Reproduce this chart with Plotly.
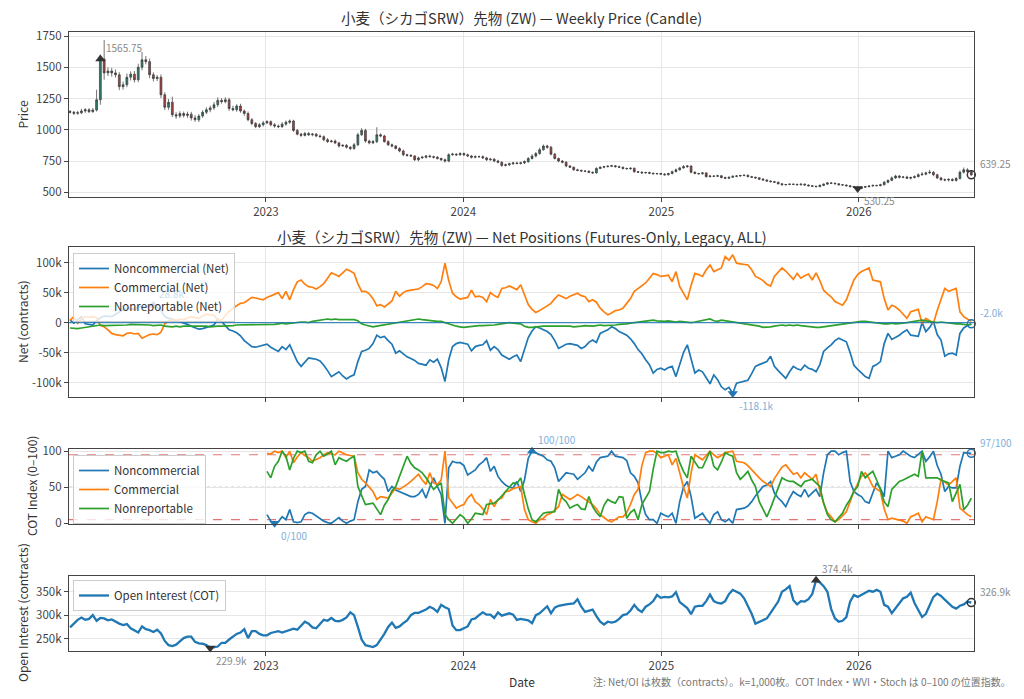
import pandas as pd
import plotly.graph_objects as go

# weekly COT dates (Tuesdays)
START_DATE = "2022-01-04"

# weekly close of the front contract
close = [
    1140, 1132, 1136, 1150, 1160, 1145, 1158, 1240, 1565.75, 1455,
    1470, 1455, 1440, 1345, 1360, 1420, 1445, 1400, 1500, 1560,
    1545, 1440, 1410, 1420, 1280, 1180, 1220, 1120, 1110, 1130,
    1115, 1125, 1095, 1080, 1110, 1140, 1160, 1175, 1200, 1235,
    1225, 1240, 1170, 1160, 1190, 1150, 1130, 1080, 1050, 1025,
    1040, 1055, 1065, 1040, 1030, 1025, 1045, 1060, 1070, 995,
    965, 955, 970, 960, 965, 950, 945, 920, 905, 910,
    895, 870, 875, 860, 850, 880, 960, 995, 910, 895,
    905, 960, 950, 905, 880, 870, 850, 830, 800, 795,
    790, 760, 775, 780, 790, 785, 780, 770, 760, 750,
    800, 805, 800, 810, 800, 790, 780, 785, 785, 775,
    760, 765, 750, 740, 715, 720, 728, 735, 730, 735,
    745, 770, 790, 810, 840, 870, 860, 805, 770, 750,
    740, 710, 700, 680, 675, 670, 668, 660, 655, 690,
    700, 705, 708, 712, 705, 700, 690, 688, 692, 665,
    660, 655, 658, 652, 648, 650, 645, 640, 650, 665,
    680, 695, 705, 710, 660, 650, 648, 655, 625, 630,
    628, 632, 618, 612, 620, 628, 630, 634, 636, 625,
    620, 615, 605, 598, 590, 585, 580, 568, 560, 562,
    565, 563, 560, 565, 558, 552, 548, 545, 555, 565,
    575, 572, 568, 560, 558, 552, 545, 540, 530.25, 540,
    545, 550, 555, 553, 560, 580, 595, 615, 630, 620,
    622, 612, 618, 625, 640, 645, 655, 660, 640, 615,
    600, 598, 603, 595, 610, 660, 680, 665, 639.25,
]
first_open = 1146
# wick length above / below the candle body
wick_up = [
    12, 10, 15, 18, 14, 12, 16, 80, 35, 152,
    30, 25, 28, 20, 26, 30, 22, 25, 28, 62,
    30, 24, 20, 18, 22, 20, 26, 45, 20, 18,
    16, 20, 18, 22, 14, 16, 20, 18, 22, 24,
    18, 20, 16, 22, 14, 18, 12, 16, 14, 12,
    14, 16, 12, 10, 14, 12, 16, 14, 12, 10,
    12, 10, 14, 12, 10, 8, 12, 10, 14, 10,
    12, 8, 10, 12, 10, 14, 16, 18, 12, 10,
    14, 60, 12, 10, 12, 10, 8, 10, 12, 8,
    10, 8, 10, 12, 8, 10, 8, 10, 8, 10,
    12, 10, 8, 10, 8, 10, 8, 10, 8, 10,
    8, 10, 8, 10, 8, 10, 8, 6, 8, 10,
    10, 12, 14, 12, 16, 12, 10, 12, 10, 8,
    8, 10, 8, 6, 8, 7, 6, 8, 6, 10,
    8, 6, 8, 7, 6, 8, 6, 7, 8, 6,
    6, 8, 6, 7, 6, 5, 6, 8, 6, 8,
    10, 8, 12, 8, 6, 8, 6, 7, 6, 8,
    6, 8, 6, 7, 5, 6, 8, 6, 7, 6,
    6, 5, 6, 8, 6, 5, 6, 5, 6, 5,
    6, 5, 6, 5, 6, 5, 6, 5, 8, 6,
    6, 5, 6, 5, 6, 5, 6, 5, 6, 5,
    6, 5, 6, 5, 8, 10, 8, 12, 10, 8,
    8, 10, 8, 10, 12, 16, 10, 20, 10, 8,
    8, 10, 8, 10, 12, 14, 18, 12, 10,
]
wick_dn = [
    10, 14, 12, 10, 15, 12, 10, 12, 40, 55,
    25, 30, 22, 28, 24, 20, 26, 22, 20, 25,
    22, 28, 24, 20, 26, 22, 20, 18, 22, 16,
    18, 20, 22, 16, 18, 14, 16, 20, 16, 18,
    16, 14, 18, 12, 16, 14, 18, 12, 14, 12,
    12, 14, 10, 12, 14, 12, 10, 12, 14, 12,
    10, 12, 8, 10, 12, 10, 8, 12, 10, 8,
    10, 12, 8, 10, 14, 10, 12, 10, 14, 12,
    10, 12, 10, 8, 10, 12, 8, 10, 12, 10,
    8, 10, 12, 8, 10, 8, 10, 8, 10, 12,
    10, 8, 10, 8, 10, 8, 10, 8, 10, 8,
    10, 8, 10, 8, 12, 8, 10, 8, 6, 8,
    8, 10, 8, 12, 10, 8, 12, 10, 8, 10,
    8, 10, 6, 8, 7, 8, 6, 7, 8, 6,
    6, 8, 7, 6, 8, 6, 7, 6, 8, 10,
    6, 8, 6, 7, 6, 8, 6, 7, 6, 8,
    6, 8, 7, 10, 8, 6, 8, 6, 8, 6,
    7, 6, 8, 6, 7, 6, 8, 6, 7, 6,
    6, 7, 6, 5, 6, 7, 5, 6, 5, 6,
    5, 6, 5, 6, 5, 6, 5, 6, 5, 6,
    5, 6, 5, 6, 5, 6, 5, 6, 8, 6,
    5, 6, 5, 6, 5, 6, 8, 6, 8, 10,
    8, 6, 10, 8, 6, 8, 10, 8, 12, 10,
    8, 10, 12, 8, 10, 8, 10, 12, 8,
]

# net positions, thousands of contracts
net_noncomm = [
    4, -1, 5, 10, -2, -3, -4, 3, 8, 11,
    10, 10, 14, 18, 21, 24, 23, 22, 25, 27,
    26, 27, 28.8, 25, 21, 10, 7, 6, 4, 2,
    0, -3, -6, -9, -11, -10, -8, -7, -4, 6,
    2, -5, -12, -14, -17, -22, -30, -35, -40, -41,
    -39, -37, -36, -41, -44, -48, -40, -45, -37, -52,
    -65, -73, -66, -59, -60, -61, -64, -71, -80, -90,
    -86, -82, -89, -94, -90, -87, -65, -48, -46, -43,
    -35, -21, -25, -23, -30, -36, -51, -47, -52, -57,
    -60, -63, -68, -70, -71, -62, -66, -61, -75, -98,
    -62, -40, -35, -33, -34, -36, -47, -40, -38, -37,
    -30, -46, -40, -45, -54, -58, -61, -57, -54, -65,
    -45, -25, -14, -7, -9, -12, -15, -20, -30, -43,
    -40, -36, -35, -36, -38, -43, -40, -33, -29, -33,
    -18, -15, -12, -7, -10, -15, -18, -21, -27, -35,
    -45, -52, -62, -70, -84, -78, -76, -79, -75, -73,
    -90, -68, -50, -37, -60, -84, -79, -82, -92, -102,
    -87, -95, -107, -112, -108, -118.1, -101, -99, -97, -96,
    -85, -73, -70, -67, -65, -56, -73, -80, -87, -93,
    -82, -73, -77, -79, -71, -76, -78, -82, -70, -48,
    -42, -37, -30, -26, -29, -32, -50, -71, -78, -84,
    -90, -93, -73, -70, -65, -35, -18, -28, -25, -21,
    -16, -12, -21, -22, -23, 0, -15, -8, 2, -20,
    -29, -56, -52, -51, -54, -18, -9, -5, -2,
]
net_comm = [
    4, 10, -1, 6, 10, 9, 10, 8, -5, -7,
    -12, -18, -20, -21, -22, -18, -17, -19, -18, -26,
    -23, -20, -19, -20, -16, -2, 3, 5, 4, 6,
    5, 8, 10, 8, 7, 11, 14, 13, 12, 5,
    4, 12, 18, 24, 28, 32, 33, 38, 42, 41,
    39, 38, 42, 45, 48, 50, 40, 52, 38, 55,
    68, 71, 64, 60, 59, 56, 60, 65, 74, 83,
    80, 77, 83, 89, 86, 82, 65, 52, 52, 48,
    40, 28, 30, 26, 31, 36, 52, 44, 50, 53,
    54, 55, 56, 60, 65, 64, 62, 57, 68, 99,
    70, 49, 43, 39, 40, 42, 54, 43, 44, 42,
    35, 50, 45, 42, 57, 58, 61, 58, 55, 63,
    45, 30, 22, 17, 20, 24, 28, 32, 40, 46,
    43, 40, 44, 46, 49, 45, 43, 35, 38, 34,
    24, 18, 13, 16, 20, 21, 24, 32, 40, 52,
    57, 62, 66, 74, 82, 80, 77, 78, 79, 68,
    85, 60, 48, 38, 62, 82, 80, 77, 88, 96,
    85, 88, 91, 110, 104, 113, 99, 98, 97, 96,
    88, 77, 74, 70, 64, 61, 77, 84, 91, 86,
    79, 72, 82, 74, 78, 81, 71, 83, 70, 54,
    48, 43, 35, 32, 29, 38, 55, 71, 80, 85,
    88, 91, 71, 70, 68, 40, 21, 29, 26, 21,
    14, 7, 18, 20, 22, -2, 7, 3, -1, 20,
    40, 57, 52, 54, 57, 18, 10, 6, 2,
]
net_nonrep = [
    -9, -10, -10, -9, -8, -7, -6, -5, -4, -5,
    -5, -4, -5, -5, -4, -4, -3, -3, -4, -3,
    -3, -4, -5, -5, -4, -6, -7, -7, -6, -7,
    -6, -6, -5, -5, -6, -6, -6, -7, -6, -6,
    -6, -6, -5, -5, -4, -4, -4, -3, -4, -3,
    -3, -3, -4, -3, -3, -2, -1, -2, -1, 0,
    0, 1, 1, 0, 2, 3, 4, 5, 6, 5,
    6, 5, 5, 6, 5, 5, 3, -2, -4, -6,
    -7, -6, -5, -4, -3, -1, 0, 1, 2, 3,
    4, 5, 6, 5, 4, 3, 3, 2, 2, 0,
    -3, -5, -6, -7, -8, -7, -6, -5, -5, -5,
    -5, -4, -4, -3, -2, -1, 0, -1, -1, -2,
    -6, -8, -8, -7, -6, -6, -6, -6, -5, -5,
    -6, -5, -6, -7, -7, -6, -5, -6, -6, -5,
    -4, -5, -5, -4, -4, -3, -3, -2, -1, 0,
    1, 2, 3, 3, 4, 3, 2, 2, 3, 2,
    1, 2, 1, 1, 0, 1, 2, 3, 4, 6,
    3, 2, 4, 3, 2, 1, 1, 0, -1, -2,
    -3, -4, -6, -8, -8, -7, -6, -5, -4, -5,
    -4, -5, -4, -5, -6, -7, -7, -8, -8, -7,
    -6, -5, -4, -3, -2, -1, 0, 1, 1, 2,
    2, 1, 1, 0, -1, -2, -2, -1, -2, -2,
    -1, 0, 1, 2, 3, 4, 3, 2, 1, 0,
    1, 0, 0, -1, -2, -2, -3, -4, -3,
]

# COT index (0-100), starts after the 52-week lookback
COT_FIRST_WEEK = 52
cot_noncomm = [
    12, 3, 0, 2, 9, 5, 19, 2, 1, 2,
    12, 15, 14, 10, 7, 3, 1, 0, 4, 8,
    3, 0, 3, 5, 30, 47, 51, 74, 70, 72,
    66, 61, 44, 51, 46, 44, 42, 40, 37, 37,
    40, 47, 35, 50, 63, 51, 40, 0, 77, 86,
    84, 84, 80, 67, 70, 74, 81, 85, 91, 72,
    79, 65, 58, 53, 50, 49, 58, 44, 60, 90,
    100, 98, 96, 93, 88, 86, 77, 58, 64, 70,
    69, 68, 61, 65, 70, 79, 72, 85, 91, 92,
    93, 100, 93, 92, 91, 87, 70, 65, 56, 30,
    12, 5, 5, 0, 14, 11, 9, 14, 0, 30,
    50, 58, 37, 7, 10, 14, 6, 0, 12, 16,
    5, 2, 6, 0, 19, 20, 21, 24, 30, 38,
    44, 51, 53, 58, 42, 35, 30, 23, 35, 44,
    40, 37, 47, 37, 42, 47, 37, 70, 95, 100,
    100, 95, 98, 100, 58, 44, 40, 37, 30, 28,
    42, 56, 48, 37, 100, 91, 93, 95, 100, 96,
    93, 91, 95, 100, 86, 92, 100, 80, 68, 44,
    51, 49, 49, 79, 98, 97, 97,
]
cot_comm = [
    97, 96, 100, 98, 100, 91, 100, 84, 92, 98,
    94, 91, 86, 88, 91, 95, 98, 96, 95, 100,
    97, 95, 94, 93, 70, 61, 56, 50, 44, 33,
    37, 36, 35, 42, 49, 47, 50, 54, 58, 63,
    68, 60, 54, 70, 56, 54, 60, 100, 35, 28,
    21, 24, 26, 35, 40, 30, 26, 20, 12, 33,
    23, 33, 35, 44, 45, 48, 50, 51, 19, 5,
    2, 0, 5, 7, 12, 14, 18, 23, 40, 36,
    33, 36, 40, 37, 33, 30, 26, 20, 12, 8,
    4, 2, 6, 9, 9, 15, 26, 40, 47, 80,
    98, 100, 100, 97, 91, 93, 95, 81, 90, 70,
    50, 35, 70, 95, 92, 88, 94, 100, 95, 91,
    94, 98, 99, 100, 86, 85, 84, 80, 74, 68,
    63, 58, 55, 51, 62, 70, 78, 81, 74, 68,
    70, 63, 70, 66, 61, 68, 45, 28, 15, 9,
    2, 5, 10, 16, 30, 44, 55, 65, 70, 62,
    51, 48, 44, 20, 5, 7, 6, 5, 3, 0,
    9, 11, 14, 2, 9, 7, 5, 30, 61, 57,
    53, 58, 63, 21, 16, 12, 9,
]
cot_nonrep = [
    72, 63, 79, 86, 100, 93, 74, 90, 100, 98,
    100, 86, 84, 95, 100, 93, 96, 100, 81, 91,
    88, 86, 90, 93, 51, 38, 26, 27, 28, 20,
    12, 25, 33, 45, 51, 65, 80, 93, 83, 77,
    74, 70, 63, 55, 47, 52, 56, 12, 5, 0,
    6, 12, 8, 0, 6, 14, 13, 12, 26, 27,
    28, 32, 38, 45, 50, 56, 55, 63, 40, 20,
    5, 2, 8, 14, 15, 16, 16, 47, 35, 30,
    21, 24, 26, 20, 19, 37, 23, 15, 9, 25,
    33, 30, 28, 37, 36, 7, 15, 19, 5, 26,
    35, 44, 75, 100, 98, 98, 100, 99, 100, 84,
    72, 63, 93, 85, 77, 77, 88, 100, 79, 74,
    85, 98, 95, 93, 70, 61, 66, 72, 60, 51,
    30, 20, 9, 21, 35, 47, 63, 60, 58, 58,
    55, 51, 58, 60, 61, 56, 51, 28, 12, 5,
    2, 8, 14, 25, 33, 45, 51, 72, 63, 68,
    72, 60, 47, 30, 23, 47, 52, 58, 60, 63,
    66, 68, 65, 100, 63, 63, 63, 63, 60, 58,
    56, 30, 42, 54, 19, 25, 35,
]

# open interest, thousands of contracts
open_interest = [
    274, 282, 290, 295, 290, 292, 300, 288, 294, 293,
    289, 291, 286, 282, 279, 281, 272, 268, 263, 276,
    270, 268, 264, 269, 261, 245, 236, 234, 237, 244,
    251, 254, 254, 243, 240, 239, 236, 229.9, 232, 233,
    241, 241, 248, 254, 260, 263, 270, 251, 266, 266,
    260, 257, 257, 262, 264, 266, 263, 266, 268, 271,
    269, 278, 286, 282, 274, 272, 281, 290, 288, 294,
    288, 287, 290, 295, 306, 300, 275, 248, 236, 234,
    232, 236, 247, 260, 275, 284, 273, 276, 283, 289,
    300, 305, 305, 309, 312, 318, 314, 307, 322, 317,
    313, 278, 268, 268, 272, 276, 291, 293, 300, 306,
    301, 301, 294, 306, 299, 302, 304, 301, 290, 292,
    290, 289, 283, 300, 304, 312, 319, 304, 316, 320,
    322, 323, 324, 325, 334, 318, 307, 310, 312, 298,
    286, 280, 286, 284, 286, 292, 300, 302, 310, 322,
    312, 307, 318, 323, 330, 343, 337, 339, 338, 340,
    349, 328, 322, 315, 302, 318, 320, 320, 330, 344,
    330, 326, 325, 330, 345, 354, 350, 346, 336, 320,
    303, 282, 286, 290, 293, 305, 318, 329, 350, 355,
    362, 332, 323, 330, 329, 334, 345, 374.4, 370, 362,
    350, 313, 293, 286, 288, 296, 329, 343, 339, 344,
    348, 352, 350, 354, 350, 322, 318, 304, 315, 326,
    336, 339, 348, 326, 312, 296, 303, 320, 339, 346,
    341, 333, 325, 318, 314, 320, 323, 329, 326.9,
]

price_ticks = [500, 750, 1000, 1250, 1500, 1750]
net_ticks = [-100, -50, 0, 50, 100]
net_tick_text = ["-100k", "-50k", "0", "50k", "100k"]
cot_ticks = [0, 50, 100]
oi_ticks = [250, 300, 350]
oi_tick_text = ["250k", "300k", "350k"]

TITLE_PRICE = "小麦（シカゴSRW）先物 (ZW) — Weekly Price (Candle)"
TITLE_NET = "小麦（シカゴSRW）先物 (ZW) — Net Positions (Futures-Only, Legacy, ALL)"
NOTE = "注: Net/OI は枚数（contracts）。k=1,000枚。COT Index・WVI・Stoch は 0–100 の位置指数。"

for arr in (wick_up, wick_dn, net_noncomm, net_comm, net_nonrep, open_interest):
    assert len(arr) == len(close), len(arr)
for arr in (cot_noncomm, cot_comm, cot_nonrep):
    assert len(arr) == len(close) - COT_FIRST_WEEK, len(arr)

dates = pd.date_range(START_DATE, periods=len(close), freq="7D")
cot_dates = dates[COT_FIRST_WEEK:]
opens = [first_open] + close[:-1]
highs = [max(o, c) + w for o, c, w in zip(opens, close, wick_up)]
lows = [min(o, c) - w for o, c, w in zip(opens, close, wick_dn)]

BLUE, ORANGE, GREEN = "#1f77b4", "#ff7f0e", "#2ca02c"
DARK = "#333333"
LABEL_GRAY = "#8a8a8a"
LABEL_BLUE = "#7fb0d8"
FONT = "Noto Sans CJK JP"

fig = go.Figure()

fig.add_trace(go.Candlestick(
    x=dates, open=opens, high=highs, low=lows, close=close,
    xaxis="x", yaxis="y", showlegend=False, whiskerwidth=0,
    increasing=dict(line=dict(color="#3a3a3a", width=0.7), fillcolor="#2f7d6d"),
    decreasing=dict(line=dict(color="#3a3a3a", width=0.7), fillcolor="#a8413f"),
))

for name, vals, col in [("Noncommercial (Net)", net_noncomm, BLUE),
                        ("Commercial (Net)", net_comm, ORANGE),
                        ("Nonreportable (Net)", net_nonrep, GREEN)]:
    fig.add_trace(go.Scatter(x=dates, y=vals, name=name, mode="lines",
                             line=dict(color=col, width=1.7),
                             xaxis="x2", yaxis="y2", legend="legend"))

for name, vals, col in [("Noncommercial", cot_noncomm, BLUE),
                        ("Commercial", cot_comm, ORANGE),
                        ("Nonreportable", cot_nonrep, GREEN)]:
    fig.add_trace(go.Scatter(x=cot_dates, y=vals, name=name, mode="lines",
                             line=dict(color=col, width=1.7),
                             xaxis="x3", yaxis="y3", legend="legend2"))

fig.add_trace(go.Scatter(x=dates, y=open_interest, name="Open Interest (COT)",
                         mode="lines", line=dict(color=BLUE, width=2.3),
                         xaxis="x4", yaxis="y4", legend="legend3"))

annotations = []


def mark_extremes(xs, ys, ax, color, label_color, fmt, max_opacity=1.0):
    """max / min / last markers with small labels, like the reference."""
    n = len(ys)
    i_max = max(range(n), key=lambda i: ys[i])
    i_min = min(range(n), key=lambda i: ys[i])
    i_last = n - 1
    fig.add_trace(go.Scatter(
        x=[xs[i_max], xs[i_min]], y=[ys[i_max], ys[i_min]], mode="markers",
        marker=dict(symbol=["triangle-up", "triangle-down"], size=9, color=color),
        xaxis="x" + ax, yaxis="y" + ax, showlegend=False, cliponaxis=False,
        hoverinfo="skip"))
    fig.add_trace(go.Scatter(
        x=[xs[i_last]], y=[ys[i_last]], mode="markers",
        marker=dict(symbol="circle-open", size=8, color=color, line=dict(width=1.5)),
        xaxis="x" + ax, yaxis="y" + ax, showlegend=False, cliponaxis=False,
        hoverinfo="skip"))
    for i, dy, op in [(i_max, 12, max_opacity), (i_min, -12, 1.0), (i_last, 11, 1.0)]:
        annotations.append(dict(
            x=xs[i], y=ys[i], xref="x" + ax, yref="y" + ax, text=fmt(ys[i]),
            showarrow=False, xanchor="left", yanchor="middle", opacity=op,
            xshift=4 if i != i_last else 7, yshift=dy,
            font=dict(size=10, color=label_color)))


mark_extremes(dates, close, "", DARK, LABEL_GRAY, lambda v: f"{v:.2f}")
# the max label sits behind the semi-transparent legend in the reference
mark_extremes(dates, net_noncomm, "2", BLUE, LABEL_BLUE, lambda v: f"{v:.1f}k",
              max_opacity=0.4)
mark_extremes(cot_dates, cot_noncomm, "3", BLUE, LABEL_BLUE, lambda v: f"{v:.0f}/100")
mark_extremes(dates, open_interest, "4", DARK, LABEL_GRAY, lambda v: f"{v:.1f}k")

# plot area in pixels: x 69..974, y 32..651 (height 619)
def py(px):
    return (651 - px) / 619


def px_x(px):
    return (px - 69) / 905


def paper_text(text, x, y, size, color=DARK, xanchor="center", angle=0):
    annotations.append(dict(x=x, y=y, xref="paper", yref="paper", text=text,
                            showarrow=False, xanchor=xanchor, yanchor="middle",
                            textangle=angle, font=dict(size=size, color=color)))


paper_text(TITLE_PRICE, 0.5, py(18), 14.5)
paper_text(TITLE_NET, 0.5, py(236), 14.5)
for text, x, y in [("Price", 22, 114.5), ("Net (contracts)", 22, 322),
                   ("COT Index (0–100)", 31, 486), ("Open Interest (contracts)", 22, 613)]:
    paper_text(text, px_x(x), py(y), 12, angle=-90)
paper_text("Date", 0.5, py(681), 12)
paper_text(NOTE, px_x(1013), py(681), 10, color="#777777", xanchor="right")

shapes = [
    dict(type="line", xref="x2 domain", x0=0, x1=1, yref="y2", y0=0, y1=0,
         line=dict(color=BLUE, width=1.3), opacity=0.85, layer="above"),
    dict(type="line", xref="x3 domain", x0=0, x1=1, yref="y3", y0=95, y1=95,
         line=dict(color="rgba(220,60,60,0.7)", width=1.2, dash="dash"), layer="below"),
    dict(type="line", xref="x3 domain", x0=0, x1=1, yref="y3", y0=5, y1=5,
         line=dict(color="rgba(220,60,60,0.7)", width=1.2, dash="dash"), layer="below"),
    dict(type="line", xref="x3 domain", x0=0, x1=1, yref="y3", y0=50, y1=50,
         line=dict(color="#aaaaaa", width=1, dash="dot"), layer="below"),
]

X_RANGE = ["2022-01-02", "2026-08-02"]
tick_font = dict(size=11.5, color="#444444")
frame = dict(showline=True, mirror=True, linecolor="#444444", linewidth=1.3,
             showgrid=True, gridcolor="#e6e6e6", gridwidth=1, zeroline=False,
             ticks="outside", ticklen=4, tickcolor="#444444", tickfont=tick_font)


def xaxis(anchor, labels):
    return dict(domain=[0, 1], anchor=anchor, type="date", range=X_RANGE,
                tick0="2023-01-01", dtick="M12", tickformat="%Y",
                showticklabels=labels, rangeslider=dict(visible=False), **frame)


legend_style = dict(xanchor="left", yanchor="top", bgcolor="rgba(255,255,255,0.8)",
                    bordercolor="#cccccc", borderwidth=1, font=dict(size=11.5, color=DARK),
                    itemwidth=30, tracegroupgap=0)

fig.update_layout(
    width=1024, height=699,
    margin=dict(l=69, r=50, t=32, b=48),
    paper_bgcolor="white", plot_bgcolor="white",
    font=dict(family=FONT, color=DARK),
    showlegend=True,
    xaxis=xaxis("y", True),
    xaxis2=dict(matches="x", **xaxis("y2", False)),
    xaxis3=dict(matches="x", **xaxis("y3", False)),
    xaxis4=dict(matches="x", **xaxis("y4", True)),
    yaxis=dict(domain=[py(197), py(32)], range=[462, 1782], tickvals=price_ticks, **frame),
    yaxis2=dict(domain=[py(397), py(247)], range=[-124, 126], tickvals=net_ticks,
                ticktext=net_tick_text, **frame),
    yaxis3=dict(domain=[py(524), py(449)], range=[-1, 103], tickvals=cot_ticks, **frame),
    yaxis4=dict(domain=[py(651), py(576)], range=[223.5, 383.6], tickvals=oi_ticks,
                ticktext=oi_tick_text, **frame),
    legend=dict(x=px_x(73), y=py(253), **legend_style),
    legend2=dict(x=px_x(73), y=py(455), **legend_style),
    legend3=dict(x=px_x(73), y=py(580), **legend_style),
    annotations=annotations,
    shapes=shapes,
)

# the page's default body margin would push the figure 8px off the window
fig.write_html("out.html", config={"displayModeBar": False},
               post_script="document.body.style.margin='0';")
